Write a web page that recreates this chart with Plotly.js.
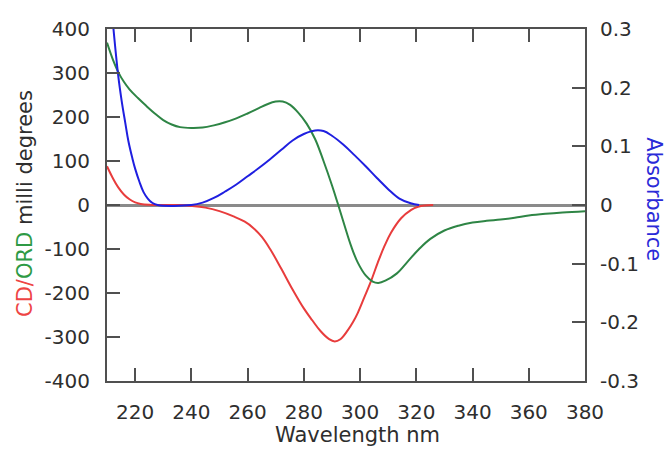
<!DOCTYPE html>
<html>
<head>
<meta charset="utf-8">
<script src="https://cdn.plot.ly/plotly-3.0.1.min.js"></script>
<style>
html,body{margin:0;padding:0;background:#fff;}
#chart{width:665px;height:449px;}
</style>
</head>
<body>
<div id="chart"></div>
<script>
// CD (red), milli degrees
const cdWavelength = [210,212,214,216,218,220,222,225,228,235,240,245,250,255,259,262,265,268,272,276,280,283,286,289,291,293,295.6,297.5,299.2,301.5,303.9,306.3,308.7,311,314.6,318.2,320.6,323,326];
const cdValues     = [88,62,40,24,13,6,2.5,0.5,0,0,-2,-6,-14,-26,-38,-52,-72,-100,-145,-192,-235,-262,-287,-305,-310,-305,-285,-266,-245,-210,-173,-131,-93,-63,-30,-11,-4,-1,0];

// ORD (green), milli degrees
const ordWavelength = [210,212,214,216,218,221,224,227,230,233,236,240,244,248,252,256,260,264,267,270,272.5,275,278,281,284,287,290,292,294.4,296.8,299.2,302,304.5,306.5,309,313,317,321,325,330,335,340,345,350,355,360,366,372,380];
const ordValues     = [369,332,302,280,263,243,225,208,193,183,177,175,176,181,188,197,208,220,229,235,235,228,210,185,150,100,45,5,-45,-93,-131,-160,-174,-177,-172,-156,-128,-100,-77,-58,-47,-40,-36,-33,-29,-24,-20,-17,-14];

// Absorbance (blue)
const absWavelength = [210.5,212.3,214,215.2,216.5,217.6,219,220,221.5,223,224.5,226,228,240,244,248,252,256,260,264,268,272,276,280,284,287,290,294,298,302,306,310,314,318,321];
const absValues     = [0.40,0.30,0.22,0.178,0.14,0.109,0.08,0.062,0.04,0.022,0.011,0.004,0.0,0.0,0.004,0.012,0.023,0.035,0.049,0.063,0.078,0.094,0.110,0.121,0.127,0.126,0.118,0.103,0.085,0.066,0.046,0.027,0.011,0.003,0.0];

// Axis ticks
const xTickVals = [220,240,260,280,300,320,340,360,380];
const xTickText = ['220','240','260','280','300','320','340','360','380'];
const yTickVals = [400,300,200,100,0,-100,-200,-300,-400];
const yTickText = ['400','300','200','100','0','-100','-200','-300','-400'];
const y2TickVals = [0.3,0.2,0.1,0,-0.1,-0.2,-0.3];
const y2TickText = ['0.3','0.2','0.1','0','-0.1','-0.2','-0.3'];

const FONT = 'DejaVu Sans';
const AXC = '#505050';
const TXT = '#2e2e2e';

const traces = [
  {x: cdWavelength, y: cdValues, mode:'lines', line:{color:'#e83c3c', width:2, shape:'spline', smoothing:1.1}, yaxis:'y', hoverinfo:'skip'},
  {x: ordWavelength, y: ordValues, mode:'lines', line:{color:'#2e8545', width:2, shape:'spline', smoothing:1.1}, yaxis:'y', hoverinfo:'skip'},
  {x: absWavelength, y: absValues, mode:'lines', line:{color:'#1f1fe0', width:2, shape:'spline', smoothing:1.1}, yaxis:'y2', hoverinfo:'skip'}
];

const axisCommon = {
  showgrid:false, showline:true, linecolor:AXC, linewidth:2,
  ticks:'inside', ticklen:13, tickwidth:2, tickcolor:AXC,
  tickfont:{family:FONT, size:20, color:TXT}, tickmode:'array', fixedrange:true
};

const layout = {
  width:665, height:449,
  margin:{l:107, r:80, t:29, b:68, pad:0},
  paper_bgcolor:'#ffffff', plot_bgcolor:'#ffffff',
  showlegend:false,
  xaxis: Object.assign({}, axisCommon, {
    range:[210,380], tickvals:xTickVals, ticktext:xTickText,
    mirror:'ticks', zeroline:false, ticklabelstandoff:12
  }),
  yaxis: Object.assign({}, axisCommon, {
    range:[-400,400], tickvals:yTickVals, ticktext:yTickText,
    zeroline:true, zerolinecolor:'#8a8a8a', zerolinewidth:3, ticklabelstandoff:11
  }),
  yaxis2: Object.assign({}, axisCommon, {
    range:[-0.3,0.3], tickvals:y2TickVals, ticktext:y2TickText,
    overlaying:'y', side:'right', zeroline:false, ticklabelstandoff:9
  }),
  annotations:[
    {xref:'paper', yref:'paper', x:-0.1715, y:0.503, xanchor:'center', yanchor:'middle', showarrow:false, textangle:-90,
     text:'<span style="color:#ee4444">CD/</span><span style="color:#2e9a45">ORD</span> milli degrees',
     font:{family:FONT, size:21, color:TXT}},
    {xref:'paper', yref:'paper', x:1.144, y:0.517, xanchor:'center', yanchor:'middle', showarrow:false, textangle:90,
     text:'Absorbance', font:{family:FONT, size:21, color:'#2a2ad8'}},
    {xref:'paper', yref:'paper', x:0.525, y:-0.153, xanchor:'center', yanchor:'middle', showarrow:false,
     text:'Wavelength nm', font:{family:FONT, size:21, color:TXT}}
  ]
};

Plotly.newPlot('chart', traces, layout, {staticPlot:true, displayModeBar:false});
</script>
</body>
</html>
